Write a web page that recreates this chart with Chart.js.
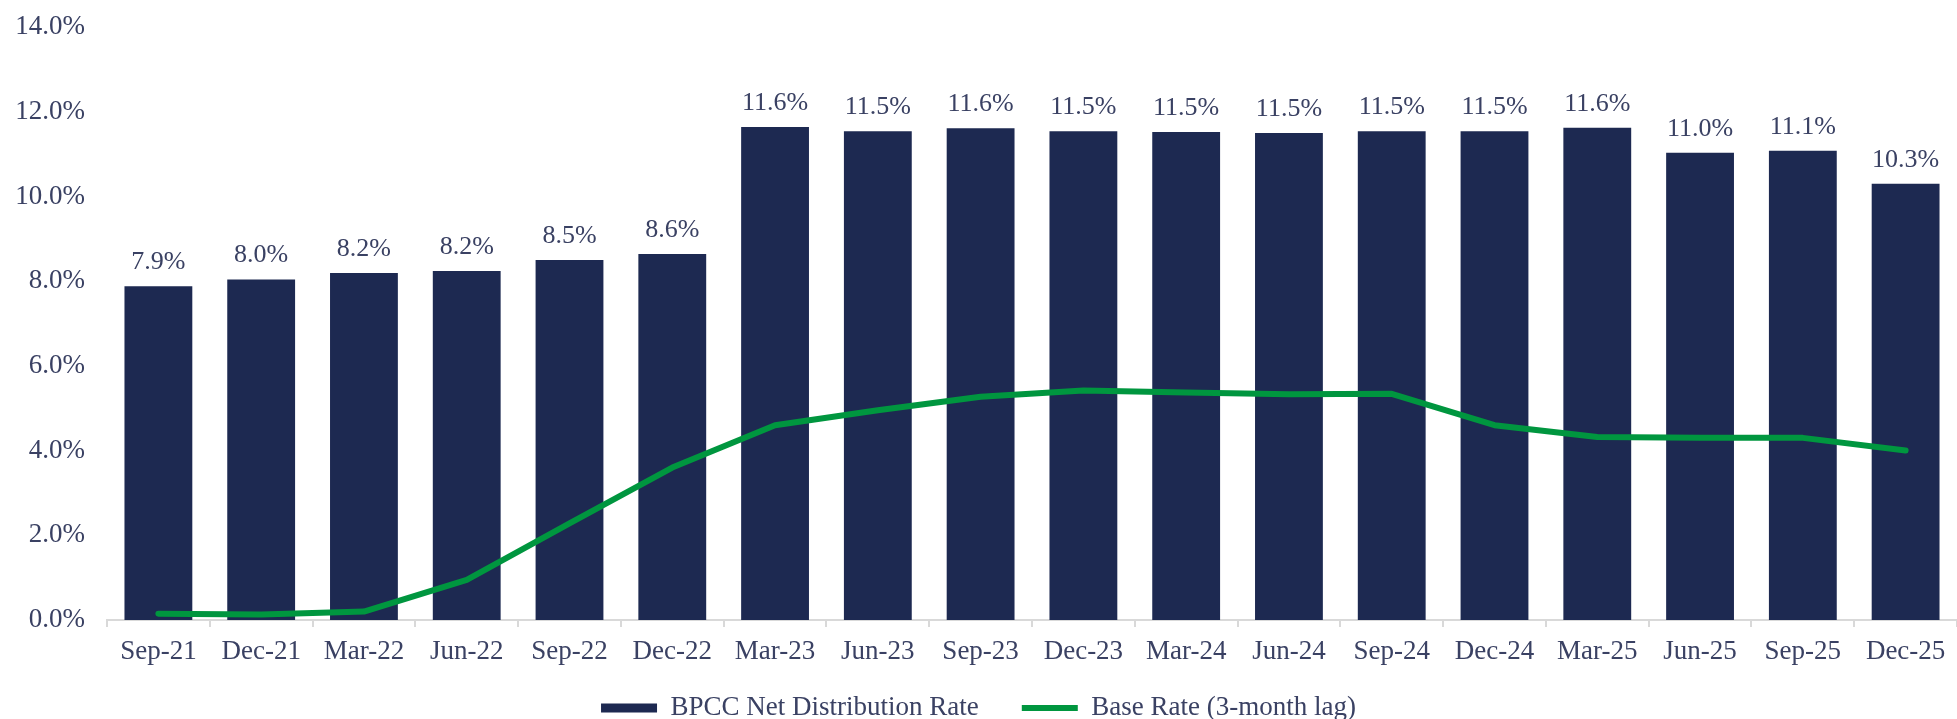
<!DOCTYPE html>
<html>
<head>
<meta charset="utf-8">
<script src="https://cdn.jsdelivr.net/npm/chart.js@4/dist/chart.umd.min.js"></script>
<style>
  html, body { margin: 0; padding: 0; background: #ffffff; }
  #wrap { width: 1957px; height: 719px; }
</style>
</head>
<body>
<div id="wrap"><canvas id="c" width="1957" height="719"></canvas></div>
<script>
// ---- data ----
const categories = ['Sep-21','Dec-21','Mar-22','Jun-22','Sep-22','Dec-22','Mar-23','Jun-23','Sep-23','Dec-23','Mar-24','Jun-24','Sep-24','Dec-24','Mar-25','Jun-25','Sep-25','Dec-25'];
const distributionRate = [7.88, 8.04, 8.19, 8.24, 8.50, 8.64, 11.64, 11.54, 11.61, 11.54, 11.52, 11.50, 11.54, 11.54, 11.62, 11.03, 11.08, 10.30];
const baseRate = [0.15, 0.13, 0.20, 0.95, 2.28, 3.60, 4.60, 4.95, 5.27, 5.42, 5.37, 5.33, 5.34, 4.60, 4.32, 4.30, 4.30, 4.00];
const yTicks = [0, 2, 4, 6, 8, 10, 12, 14];
const seriesNames = ['BPCC Net Distribution Rate', 'Base Rate (3-month lag)'];

// ---- styles ----
const NAVY = '#1d2951';
const GREEN = '#00963f';
const TEXT = '#3a4163';
const AXIS = '#d9d9d9';
const FONT = "'Liberation Serif', 'Times New Roman', serif";
const CHART_BOTTOM = 620;
const X_AXIS_H = 50;
const LEGEND_TEXT_Y = 708;

const valueLabels = {
  id: 'valueLabels',
  afterDatasetsDraw(chart) {
    const meta = chart.getDatasetMeta(0);
    const ctx = chart.ctx;
    ctx.save();
    ctx.font = '26px ' + FONT;
    ctx.fillStyle = TEXT;
    ctx.textAlign = 'center';
    ctx.textBaseline = 'alphabetic';
    meta.data.forEach((el, i) => {
      const v = chart.data.datasets[0].data[i];
      ctx.fillText(v.toFixed(1) + '%', el.x, el.y - 17);
    });
    ctx.restore();
  }
};

// legend: keep wide item gap but place it tight to the bottom
const legendPlace = {
  id: 'legendPlace',
  beforeInit(chart) {
    const lg = chart.legend;
    if (!lg) return;
    const orig = lg.fit;
    lg.fit = function () {
      orig.call(this);
      this.height = 719 - CHART_BOTTOM - X_AXIS_H;
    };
  },
  afterLayout(chart) {
    const lg = chart.legend;
    if (!lg) return;
    const pad = lg.options.labels.padding;
    const fs = lg.options.labels.font.size;
    lg.top = LEGEND_TEXT_Y - pad - fs / 2;
    lg.bottom = chart.height;
    lg.height = lg.bottom - lg.top;
  }
};

new Chart(document.getElementById('c'), {
  type: 'bar',
  data: {
    labels: categories,
    datasets: [
      {
        type: 'bar',
        label: seriesNames[0],
        data: distributionRate,
        backgroundColor: NAVY,
        borderWidth: 0,
        barPercentage: 0.66,
        categoryPercentage: 1.0,
        order: 1,
        pointStyle: 'rect'
      },
      {
        type: 'line',
        label: seriesNames[1],
        data: baseRate,
        borderColor: GREEN,
        backgroundColor: GREEN,
        borderWidth: 6,
        borderCapStyle: 'round',
        borderJoinStyle: 'round',
        pointRadius: 0,
        pointHoverRadius: 0,
        tension: 0,
        fill: false,
        order: 0,
        pointStyle: 'line'
      }
    ]
  },
  options: {
    responsive: false,
    animation: false,
    devicePixelRatio: 1,
    layout: { padding: { top: 27, left: 0, right: 0, bottom: 0 } },
    plugins: {
      tooltip: { enabled: false },
      legend: {
        position: 'bottom',
        align: 'center',
        labels: {
          usePointStyle: true,
          pointStyleWidth: 56,
          boxHeight: 9,
          padding: 43,
          color: TEXT,
          font: { family: FONT, size: 27 },
          sort: (a, b) => a.datasetIndex - b.datasetIndex
        }
      }
    },
    scales: {
      x: {
        offset: true,
        grid: {
          display: true,
          drawOnChartArea: false,
          drawTicks: true,
          tickLength: 7,
          color: AXIS,
          lineWidth: 2,
          offset: true
        },
        border: { display: true, color: AXIS, width: 2 },
        ticks: {
          color: TEXT,
          font: { family: FONT, size: 27 },
          padding: 9,
          maxRotation: 0,
          autoSkip: false
        },
        afterFit(scale) { scale.height = X_AXIS_H; }
      },
      y: {
        min: 0,
        max: 14,
        afterBuildTicks(scale) { scale.ticks = yTicks.map(v => ({ value: v })); },
        grid: { display: false, drawTicks: false },
        border: { display: false },
        ticks: {
          color: TEXT,
          font: { family: FONT, size: 27 },
          padding: 22,
          callback: (v) => Number(v).toFixed(1) + '%'
        },
        afterFit(scale) {
          scale.width = 107;
          scale.paddingTop = 0;
          scale.paddingBottom = 0;
        }
      }
    }
  },
  plugins: [valueLabels, legendPlace]
});
</script>
</body>
</html>
